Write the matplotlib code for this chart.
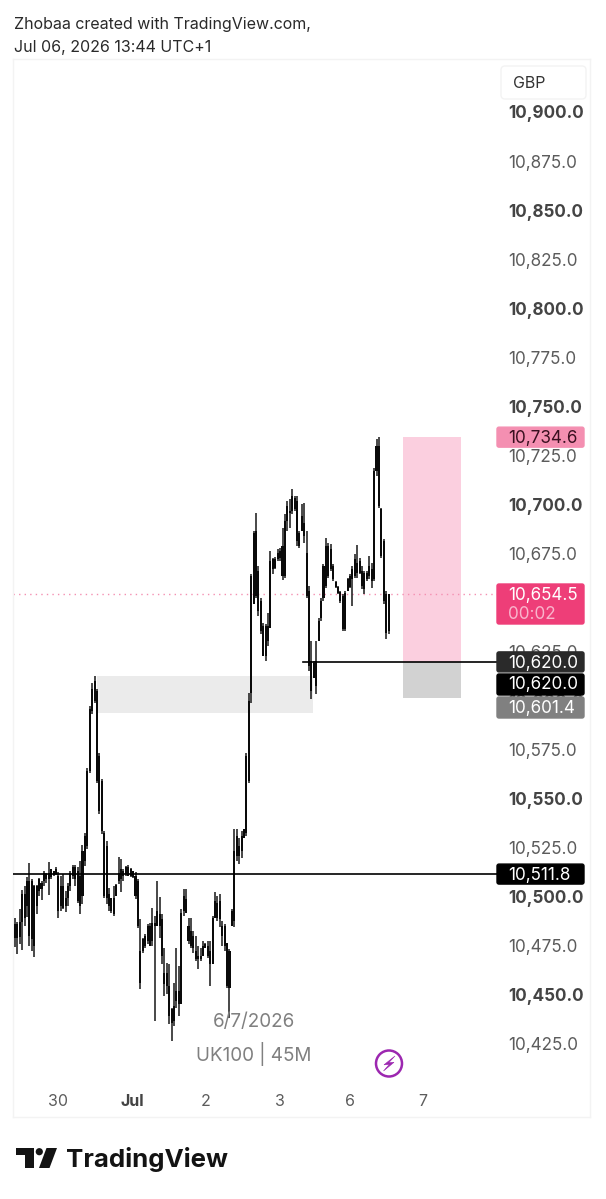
import numpy as np
import matplotlib
matplotlib.use("Agg")
import matplotlib.pyplot as plt
from matplotlib.patches import FancyBboxPatch, Polygon, Circle, Rectangle
from matplotlib.transforms import blended_transform_factory

plt.rcParams["font.family"] = ["Inter", "DejaVu Sans"]

# ── 45M candles ───────────────────────────────────────────────
highs = [
    10489.4, 10487.4, 10494.0, 10503.7, 10505.8, 10510.3, 10517.5, 10509.3, 10506.3, 10506.3,
    10509.8, 10508.3, 10513.4, 10512.4, 10518.0, 10514.4, 10513.4, 10515.4, 10512.9, 10510.9,
    10511.9, 10503.2, 10507.3, 10513.4, 10516.5, 10516.5, 10515.4, 10518.5, 10526.7, 10532.8,
    10565.9, 10597.5, 10609.3, 10612.9, 10606.2, 10573.6, 10560.3, 10533.8, 10528.7, 10504.7,
    10499.6, 10505.8, 10506.8, 10520.5, 10519.5, 10514.4, 10516.0, 10516.5, 10514.9, 10513.4,
    10512.9, 10509.3, 10488.9, 10479.2, 10481.3, 10486.4, 10486.9, 10494.5, 10490.4, 10508.3,
    10500.1, 10491.5, 10474.1, 10466.5, 10466.0, 10443.5, 10456.3, 10474.1, 10464.9, 10494.0,
    10504.2, 10504.2, 10489.4, 10489.4, 10482.8, 10480.3, 10475.2, 10474.1, 10477.7, 10476.7,
    10477.7, 10477.7, 10490.4, 10502.7, 10500.7, 10501.7, 10487.9, 10486.4, 10476.7, 10473.6,
    10494.0, 10534.8, 10534.8, 10530.2, 10533.8, 10534.8, 10573.6, 10604.2, 10664.9, 10686.8,
    10696.0, 10668.9, 10652.6, 10639.9, 10639.4, 10645.0, 10676.6, 10673.0, 10673.5, 10677.6,
    10678.1, 10688.3, 10695.5, 10702.1, 10703.1, 10708.2, 10704.7, 10704.7, 10686.8, 10700.6,
    10701.1, 10686.8, 10658.8, 10630.7, 10620.5, 10630.7, 10642.4, 10652.6, 10670.0, 10683.2,
    10680.7, 10680.2, 10670.0, 10661.3, 10658.8, 10656.2, 10654.7, 10656.2, 10662.8, 10664.9,
    10668.9, 10675.1, 10679.7, 10673.0, 10668.9, 10666.4, 10666.4, 10674.1, 10670.5, 10718.9,
    10733.7, 10734.6, 10698.5, 10682.7, 10656.2, 10654.7,
]
lows = [
    10474.6, 10471.1, 10476.2, 10473.1, 10485.4, 10490.0, 10475.2, 10472.6, 10469.5, 10491.5,
    10500.7, 10498.6, 10505.8, 10507.3, 10501.2, 10509.3, 10510.9, 10511.4, 10489.4, 10493.0,
    10494.0, 10492.5, 10495.6, 10503.2, 10509.3, 10505.8, 10497.1, 10491.5, 10496.6, 10515.9,
    10524.6, 10563.4, 10593.5, 10599.1, 10558.3, 10542.5, 10532.3, 10499.6, 10496.6, 10493.0,
    10492.0, 10490.4, 10500.7, 10506.8, 10502.7, 10508.3, 10510.9, 10510.9, 10510.3, 10509.8,
    10499.1, 10484.4, 10453.2, 10471.6, 10474.1, 10476.2, 10475.2, 10475.2, 10436.9, 10485.4,
    10479.2, 10466.0, 10449.7, 10450.7, 10435.4, 10426.7, 10434.4, 10443.5, 10439.5, 10445.6,
    10490.4, 10492.0, 10476.2, 10474.1, 10471.6, 10467.5, 10463.4, 10467.5, 10471.1, 10474.1,
    10469.0, 10454.8, 10466.0, 10489.4, 10487.9, 10484.8, 10475.2, 10472.6, 10453.7, 10438.4,
    10485.4, 10484.8, 10518.5, 10517.0, 10520.0, 10530.2, 10531.2, 10558.3, 10599.1, 10649.6,
    10652.6, 10643.5, 10634.3, 10623.0, 10620.5, 10628.2, 10637.3, 10664.9, 10667.4, 10671.5,
    10671.5, 10661.8, 10662.8, 10686.8, 10688.3, 10695.5, 10697.0, 10679.2, 10678.1, 10686.8,
    10680.7, 10652.6, 10615.4, 10601.1, 10611.8, 10603.7, 10630.7, 10640.9, 10651.1, 10657.7,
    10662.8, 10666.4, 10661.3, 10657.7, 10654.7, 10650.1, 10635.8, 10635.8, 10656.2, 10657.7,
    10648.6, 10662.8, 10662.8, 10664.9, 10657.2, 10654.7, 10661.3, 10662.3, 10657.7, 10661.3,
    10714.9, 10698.5, 10673.0, 10649.6, 10631.7, 10634.3,
]
body_high = [
    10486.4, 10486.4, 10487.4, 10501.7, 10501.7, 10508.3, 10508.3, 10508.3, 10505.8, 10505.8,
    10509.3, 10507.3, 10512.4, 10511.9, 10512.4, 10514.4, 10513.4, 10514.4, 10510.9, 10505.8,
    10505.8, 10499.6, 10505.8, 10512.4, 10515.4, 10515.4, 10513.4, 10510.9, 10523.6, 10531.2,
    10564.4, 10596.0, 10606.2, 10610.3, 10605.2, 10572.0, 10559.3, 10532.8, 10526.2, 10501.7,
    10499.6, 10499.6, 10506.3, 10512.4, 10514.4, 10513.4, 10515.4, 10515.4, 10514.4, 10513.4,
    10510.9, 10508.3, 10472.6, 10478.7, 10480.3, 10485.4, 10485.4, 10486.9, 10486.9, 10493.0,
    10491.5, 10488.9, 10461.4, 10461.4, 10454.8, 10443.0, 10444.5, 10452.2, 10452.2, 10492.0,
    10500.7, 10499.1, 10485.4, 10482.8, 10480.3, 10472.6, 10470.1, 10470.1, 10475.2, 10476.2,
    10475.2, 10472.6, 10489.4, 10498.1, 10497.1, 10498.1, 10485.4, 10485.4, 10476.7, 10472.6,
    10493.0, 10523.6, 10531.2, 10526.2, 10531.2, 10534.8, 10572.0, 10600.1, 10663.9, 10685.8,
    10686.8, 10666.4, 10651.1, 10638.4, 10638.4, 10638.4, 10671.5, 10672.5, 10672.5, 10675.6,
    10676.6, 10679.2, 10691.9, 10699.5, 10697.0, 10704.7, 10703.6, 10702.1, 10685.8, 10694.5,
    10690.9, 10675.6, 10656.2, 10620.5, 10619.5, 10620.5, 10640.9, 10651.1, 10669.0, 10679.2,
    10679.2, 10677.6, 10669.0, 10660.8, 10658.2, 10655.7, 10653.6, 10655.2, 10662.3, 10663.9,
    10667.4, 10672.5, 10670.5, 10671.5, 10666.4, 10665.4, 10665.4, 10669.0, 10667.4, 10717.4,
    10730.2, 10730.2, 10698.0, 10681.7, 10654.5, 10654.5,
]
body_low = [
    10479.2, 10479.2, 10479.7, 10487.4, 10489.4, 10495.6, 10480.3, 10478.7, 10475.2, 10495.6,
    10503.2, 10504.2, 10508.3, 10509.3, 10509.3, 10510.3, 10511.4, 10511.9, 10493.0, 10495.6,
    10494.5, 10495.6, 10499.6, 10505.8, 10510.9, 10509.3, 10498.1, 10495.6, 10500.7, 10518.5,
    10526.2, 10564.4, 10595.0, 10600.1, 10559.3, 10544.0, 10533.8, 10500.7, 10499.6, 10495.6,
    10493.0, 10491.5, 10500.7, 10508.3, 10509.3, 10510.9, 10511.9, 10510.9, 10510.9, 10510.3,
    10500.7, 10485.4, 10456.3, 10472.6, 10475.2, 10477.7, 10475.2, 10477.7, 10485.4, 10485.4,
    10485.4, 10470.1, 10455.8, 10454.8, 10439.5, 10435.9, 10436.9, 10447.1, 10445.6, 10445.6,
    10493.0, 10492.0, 10477.7, 10475.2, 10474.1, 10468.5, 10468.5, 10468.5, 10470.1, 10474.1,
    10470.1, 10466.0, 10466.0, 10489.4, 10489.4, 10488.9, 10480.3, 10475.2, 10454.8, 10453.7,
    10485.4, 10487.9, 10521.0, 10521.0, 10523.6, 10530.2, 10532.8, 10559.3, 10604.2, 10649.6,
    10653.6, 10646.0, 10635.8, 10623.0, 10623.0, 10630.7, 10637.3, 10667.4, 10667.9, 10672.5,
    10673.0, 10663.9, 10663.9, 10691.9, 10696.0, 10697.0, 10698.0, 10681.7, 10679.2, 10686.8,
    10684.2, 10653.6, 10618.0, 10605.2, 10611.8, 10607.7, 10630.7, 10642.4, 10652.6, 10658.8,
    10663.9, 10667.4, 10662.3, 10658.2, 10655.2, 10651.1, 10636.8, 10636.8, 10656.2, 10658.2,
    10662.3, 10663.9, 10665.4, 10665.4, 10658.8, 10657.2, 10662.3, 10663.9, 10661.3, 10662.3,
    10717.4, 10699.5, 10674.1, 10651.1, 10634.8, 10635.8,
]

price_ticks = [10900 - 25 * i for i in range(20)]
day_labels = ["30", "Jul", "2", "3", "6", "7"]
day_bars = [17.8, 48.5, 79.2, 109.9, 138.8, 169.3]

entry_price = 10620.0
line_price = 10511.8
target_price = 10734.6
stop_price = 10601.4
zone_top = 10612.9
zone_bottom = 10594.0
last_price = body_high[-1]

W, H = 606, 1199
PX_PER_BAR = 2.41
FIRST_BAR_PX = 15.0
PRICE_TOP_PX, PRICE_TOP = 112.8, 10900.0
PRICE_PER_PX = 475.0 / 931.5
TEXT_DROP_PX = 1.2  # Inter sits a little high when centred


def price_to_px(p):
    return PRICE_TOP_PX + (PRICE_TOP - p) / PRICE_PER_PX


def px_to_bar(px):
    return (px - FIRST_BAR_PX) / PX_PER_BAR


fig = plt.figure(figsize=(W / 100, H / 100), dpi=100, facecolor="white")

# chart pane, x in bar numbers and y in price
L, R, T, B = 13, 590, 59, 1117
ax = fig.add_axes([L / W, 1 - B / H, (R - L) / W, (B - T) / H])
ax.set_xlim(px_to_bar(L), px_to_bar(R))
ymin = PRICE_TOP - (B - PRICE_TOP_PX) * PRICE_PER_PX
ax.set_ylim(ymin, PRICE_TOP + (PRICE_TOP_PX - T) * PRICE_PER_PX)
ax.set_xticks([])
ax.set_yticks([])
for s in ax.spines.values():
    s.set_color("#f3f3f3")
    s.set_linewidth(1.0)

bars = np.arange(len(highs))
highs_a, lows_a = np.array(highs), np.array(lows)
tops_a, bottoms_a = np.array(body_high), np.array(body_low)

# zones
ax.add_patch(Rectangle((px_to_bar(97), zone_bottom), px_to_bar(313) - px_to_bar(97),
                       zone_top - zone_bottom, color="#ebebeb", lw=0, zorder=1))
pos_x0, pos_w = px_to_bar(403), px_to_bar(461) - px_to_bar(403)
ax.add_patch(Rectangle((pos_x0, entry_price), pos_w, target_price - entry_price,
                       color="#fbcfdf", lw=0, zorder=1))
ax.add_patch(Rectangle((pos_x0, stop_price), pos_w, entry_price - stop_price,
                       color="#d2d2d2", lw=0, zorder=1))

# last price line
ax.plot([px_to_bar(L), px_to_bar(497)], [last_price, last_price], color="#f48fb1",
        lw=1.0, ls=(0, (1, 3)), zorder=2)

# candles
ax.vlines(bars, lows_a, highs_a, color="#1f1f1f", lw=1.15, zorder=3)
ax.bar(bars, tops_a - bottoms_a, bottom=bottoms_a, width=0.85, color="#0a0a0a", lw=0, zorder=4)

# horizontal levels
ax.plot([px_to_bar(303), px_to_bar(497)], [entry_price, entry_price], color="black", lw=1.2, zorder=5)
ax.plot([px_to_bar(L), px_to_bar(497)], [line_price, line_price], color="black", lw=1.2, zorder=5)

# price scale
trans = blended_transform_factory(fig.transFigure, ax.transData)
for p in price_ticks:
    bold = p % 50 == 0
    ax.text(508 / W, p - TEXT_DROP_PX * PRICE_PER_PX, f"{p:,.1f}", transform=trans, ha="left", va="center",
            fontsize=12.3, fontweight="bold" if bold else "normal",
            color="#444444" if bold else "#5c5c5c", zorder=6, clip_on=False)

# time scale
for lab, b in zip(day_labels, day_bars):
    ax.text(b, ymin + 16 * PRICE_PER_PX, lab, ha="center", va="center", fontsize=11.5,
            fontweight="bold" if lab == "Jul" else "normal",
            color="#444444" if lab == "Jul" else "#5c5c5c", zorder=6)

# overlay in screen pixels for badges, header and branding
ov = fig.add_axes([0, 0, 1, 1], facecolor="none")
ov.set_xlim(0, W)
ov.set_ylim(H, 0)
ov.axis("off")


def badge(price, text, face, color="white", y0=None, y1=None, text_y=None, sub=None):
    cy = price_to_px(price)
    y0 = cy - 11 if y0 is None else y0
    y1 = cy + 11 if y1 is None else y1
    ov.add_patch(FancyBboxPatch((497, y0 + 1), 87, y1 - y0 - 2,
                                boxstyle="round,pad=0,rounding_size=2", fc=face, ec=face, lw=1))
    ty = cy + TEXT_DROP_PX if text_y is None else text_y
    ov.text(508, ty, text, ha="left", va="center", fontsize=12.3, color=color)
    if sub:
        ov.text(508, ty + 19, sub, ha="left", va="center", fontsize=12.3, color="#f9b4cc")


badge(target_price, f"{target_price:,.1f}", "#f48fb1", color="#3a1020")
badge(last_price, f"{last_price:,.1f}", "#ee3e78", y0=583, y1=625, sub="00:02")
badge(entry_price, f"{entry_price:,.1f}", "#2a2a2a")
badge(entry_price, f"{entry_price:,.1f}", "#000000", y0=673, y1=696, text_y=685)
badge(stop_price, f"{stop_price:,.1f}", "#808080", y0=696, y1=719, text_y=708)
badge(line_price, f"{line_price:,.1f}", "#000000")

# currency button
ov.add_patch(FancyBboxPatch((501, 66), 85, 33, boxstyle="round,pad=0,rounding_size=4",
                            fc="white", ec="#f3f3f3", lw=1))
ov.text(513, 83.5, "GBP", ha="left", va="center", fontsize=11.5, color="#333333")

# header
ov.text(14, 25, "Zhobaa created with TradingView.com,", ha="left", va="center", fontsize=11.5, color="#2a2a2a")
ov.text(14, 47.5, "Jul 06, 2026 13:44 UTC+1", ha="left", va="center", fontsize=11.5, color="#2a2a2a")

# watermark
ov.text(254, 1022, "6/7/2026", ha="center", va="center", fontsize=13.6, color="#808080")
ov.text(254, 1053.5, "UK100 | 45M", ha="center", va="center", fontsize=13.6, color="#808080")

# bolt icon
ov.add_patch(Circle((389, 1063.5), 13, fc="white", ec="#9c27b0", lw=1.8))
ov.add_patch(Polygon([(395, 1056), (384, 1064.8), (389.2, 1064.5), (383.5, 1071),
                      (394, 1062.3), (388.8, 1062.6)], closed=True, fc="#9c27b0", ec="#9c27b0", lw=0.4))

# logo
ov.add_patch(Polygon([(16, 1148), (33.5, 1148), (33.5, 1168), (24.5, 1168), (24.5, 1155), (16, 1155)],
                     closed=True, fc="#131313", ec="none"))
ov.add_patch(Circle((39.3, 1151.7), 3.6, fc="#131313", ec="none"))
ov.add_patch(Polygon([(46.5, 1148), (57, 1148), (49.5, 1168), (39, 1168)], closed=True, fc="#131313", ec="none"))
ov.text(66, 1160, "TradingView", ha="left", va="center", fontsize=18.6, fontweight="bold", color="#131313")

fig.savefig("out.png", dpi=100, facecolor="white")
